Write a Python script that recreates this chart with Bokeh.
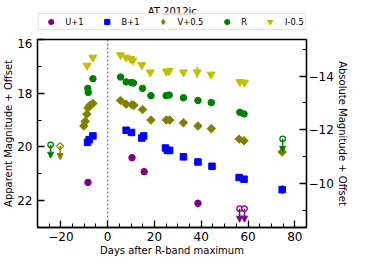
import numpy as np
from bokeh.plotting import figure
from bokeh.layouts import column
from bokeh.models import (Range1d, LinearAxis, FixedTicker, Span, Arrow, Label,
                          NormalHead, ColumnDataSource)
from bokeh.embed import file_html
from bokeh.resources import INLINE

# ---------------- data (plotted magnitudes, offsets already applied) ----------------
U_day = [-8.4, 10.4, 15.6, 38.6]
U_mag = [21.32, 20.40, 20.92, 22.10]
U_err = [0.04, 0.04, 0.04, 0.13]
U_lim_day = [56.4, 58.5]
U_lim_mag = [22.30, 22.30]

B_day = [-8.6, -7.9, -6.3, 7.9, 10.2, 14.6, 15.4, 24.7, 25.5, 26.5, 32.4, 38.6, 44.6, 56.2, 58.3, 74.6]
B_mag = [19.83, 19.73, 19.59, 19.38, 19.46, 19.67, 19.59, 20.04, 20.13, 20.13, 20.37, 20.56, 20.72, 21.14, 21.20, 21.59]
B_err = [0.04, 0.04, 0.08, 0.04, 0.04, 0.04, 0.04, 0.04, 0.04, 0.04, 0.04, 0.04, 0.04, 0.04, 0.05, 0.15]

V_day = [-10.2, -9.6, -8.9, -8.4, -7.6, -6.3, 5.5, 7.9, 10.4, 11.2, 14.9, 18.5, 25.1, 26.5, 32.4, 38.6, 44.3, 56.2, 58.3, 74.6]
V_mag = [19.22, 19.05, 18.78, 18.55, 18.45, 18.38, 18.27, 18.41, 18.43, 18.45, 18.61, 19.00, 19.00, 19.00, 19.10, 19.22, 19.32, 19.71, 19.77, 20.19]
V_err = [0.04] * 20
V_lim_day = [-20.3]
V_lim_mag = [19.97]

R_day = [-8.5, -8.3, -6.3, 5.5, 7.9, 10.2, 11.0, 14.9, 18.5, 25.0, 26.3, 32.4, 38.6, 44.3, 56.5, 58.3]
R_mag = [17.82, 17.97, 17.46, 17.40, 17.58, 17.60, 17.62, 17.82, 18.09, 18.09, 18.07, 18.17, 18.27, 18.35, 18.71, 18.77]
R_err = [0.04, 0.04, 0.04, 0.04, 0.04, 0.04, 0.04, 0.04, 0.12, 0.04, 0.04, 0.04, 0.04, 0.04, 0.04, 0.08]
R_lim_day = [-24.4, 74.8]
R_lim_mag = [19.92, 19.70]

I_day = [-8.8, -6.3, 5.5, 7.9, 9.8, 10.8, 14.6, 18.2, 25.1, 26.3, 32.4, 38.3, 44.2, 56.5, 58.5]
I_mag = [16.97, 16.67, 16.58, 16.67, 16.72, 16.78, 16.95, 17.22, 17.19, 17.17, 17.22, 17.22, 17.30, 17.58, 17.60]
I_err = [0.04] * 11 + [0.20, 0.04, 0.04, 0.04]

DIST_MOD = 31.36  # apparent - absolute
x_major = [-20, 0, 20, 40, 60, 80]
y_major = [16, 18, 20, 22]
abs_major = [-14, -12, -10]

FONT = "DejaVu Sans"
HEAD_H = 38

# ---------------- main plot ----------------
p = figure(width=350, height=258 - HEAD_H, output_backend="svg", toolbar_location=None,
           title=None, x_range=Range1d(-30, 85), y_range=Range1d(23, 16),
           min_border_left=32, min_border_right=43, min_border_top=1,
           min_border_bottom=31)
p.grid.visible = False
p.outline_line_color = "black"
p.outline_line_width = 1.3
p.background_fill_color = "white"
p.border_fill_color = "white"

p.extra_y_ranges = {"abs": Range1d(23 - DIST_MOD, 16 - DIST_MOD)}
right = LinearAxis(y_range_name="abs")
p.add_layout(right, "right")

def style_axis(ax, ticks, minor, standoff, label, label_standoff):
    ax.ticker = FixedTicker(ticks=ticks, minor_ticks=minor)
    ax.major_tick_in = 7
    ax.major_tick_out = 0
    ax.minor_tick_in = 4
    ax.minor_tick_out = 0
    ax.major_tick_line_width = 1.3
    ax.minor_tick_line_width = 1.0
    ax.axis_line_width = 1.3
    ax.major_label_text_font = FONT
    ax.major_label_text_font_size = "12px"
    ax.major_label_text_color = "black"
    ax.major_label_standoff = standoff
    ax.major_label_overrides = {t: (("\u2212" + str(-t)) if t < 0 else str(t)) for t in ticks}
    ax.axis_label = label
    ax.axis_label_text_font = FONT
    ax.axis_label_text_font_size = "10px"
    ax.axis_label_text_font_style = "normal"
    ax.axis_label_text_color = "black"
    ax.axis_label_text_line_height = 1.0
    ax.axis_label_standoff = label_standoff

style_axis(p.xaxis[0], x_major, list(range(-30, 90, 5)), 4, "Days after R-band maximum", 1)
style_axis(p.yaxis[0], y_major, [17, 19, 21, 23], 5, "Apparent Magnitude + Offset", 0)
style_axis(right, abs_major, [-15, -13, -11, -9], 2, "Absolute Magnitude + Offset", 0)

p.add_layout(Span(location=0, dimension="height", line_color="#333333",
                  line_width=0.8, line_dash="2 2"))

bands = [
    ("U+1", U_day, U_mag, U_err, U_lim_day, U_lim_mag, "#800080", "circle", 6.5, 0.0, "circle"),
    ("B+1", B_day, B_mag, B_err, [], [], "#0000ff", "square", 6.5, 0.0, "square"),
    ("V+0.5", V_day, V_mag, V_err, V_lim_day, V_lim_mag, "#808000", "square", 6.0, np.pi / 4, "diamond"),
    ("R", R_day, R_mag, R_err, R_lim_day, R_lim_mag, "#008000", "circle", 6.5, 0.0, "circle"),
    ("I-0.5", I_day, I_mag, I_err, [], [], "#bfbf00", "inverted_triangle", 8.0, 0.0, "inverted_triangle"),
]

ARROW_LEN = 0.5
for label, day, mag, err, lday, lmag, color, marker, size, ang, _ in bands:
    mag_a = np.array(mag)
    err_a = np.array(err)
    src = ColumnDataSource(dict(x=day, y=mag, lo=mag_a - err_a, hi=mag_a + err_a))
    p.segment(x0="x", y0="lo", x1="x", y1="hi", source=src, line_color=color, line_width=1.8)
    p.scatter(x="x", y="y", source=src, marker=marker, size=size, angle=ang,
              fill_color=color, line_color=color, line_width=1)
    if lday:
        lsrc = ColumnDataSource(dict(x=lday, y=lmag, y2=list(np.array(lmag) + ARROW_LEN)))
        p.add_layout(Arrow(source=lsrc, x_start="x", y_start="y", x_end="x", y_end="y2",
                           line_color=color, line_width=1.5,
                           end=NormalHead(size=6, fill_color=color, line_color=color, line_width=1)))
        p.scatter(x="x", y="y", source=lsrc, marker=marker, size=size - 1, angle=ang,
                  fill_color="white", line_color=color, line_width=1.3)

# ---------------- header strip: title + legend ----------------
h = figure(width=350, height=HEAD_H, output_backend="svg", toolbar_location=None,
           title=None, x_range=Range1d(0, 350), y_range=Range1d(0, HEAD_H),
           x_axis_type=None, y_axis_type=None,
           min_border_left=0, min_border_right=0, min_border_top=0, min_border_bottom=0)
h.grid.visible = False
h.outline_line_color = None
h.background_fill_color = "white"
h.border_fill_color = "white"

# legend keys: one (off-strip) sample point per band so each key glyph is drawn
for label, day, mag, err, lday, lmag, color, marker, size, ang, lmarker in bands:
    h.scatter(x=day[:1], y=mag[:1], marker=lmarker, size=size, fill_color=color,
              line_color=color, legend_label=label)

h.add_layout(Label(x=175.3, y=HEAD_H - 11, text="AT 2012jc", text_font=FONT,
                   text_font_size="10px", text_align="center",
                   text_baseline="alphabetic", text_color="black"))

leg = h.legend[0]
leg.location = "bottom"
leg.orientation = "horizontal"
leg.glyph_width = 22
leg.glyph_height = 13
leg.label_height = 12
leg.label_width = 0
leg.label_standoff = 4
leg.spacing = 12
leg.padding = 1
leg.margin = 8
leg.label_text_font = FONT
leg.label_text_font_size = "8.3px"
leg.label_text_color = "black"
leg.border_line_color = "#cccccc"
leg.border_line_width = 1
leg.background_fill_alpha = 0.8

layout = column(h, p, spacing=0)
open("out.html", "w").write(file_html(layout, INLINE))
